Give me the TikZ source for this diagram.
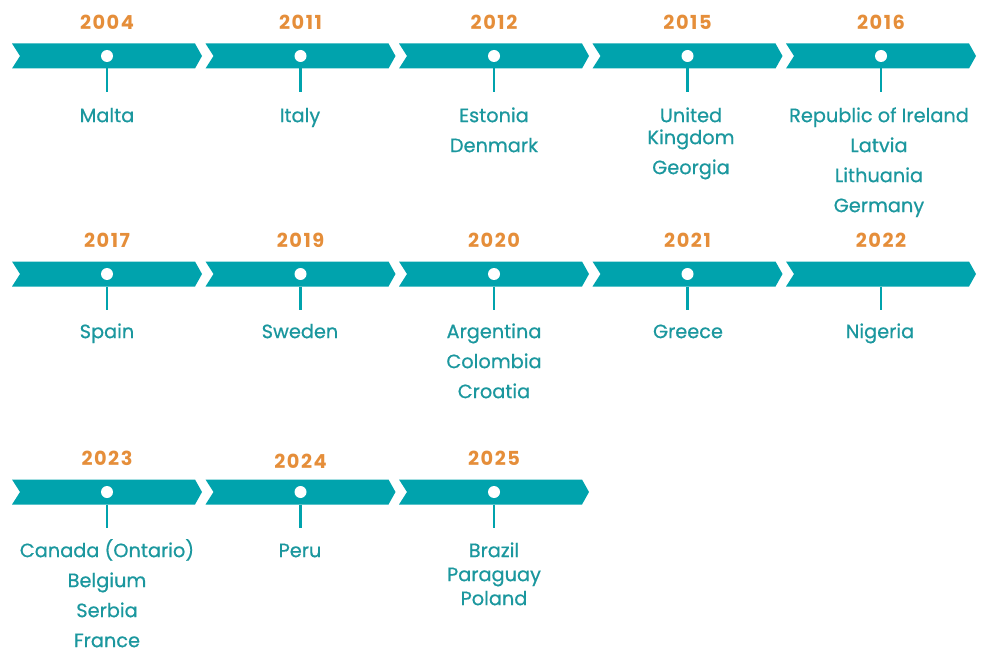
\documentclass[tikz,border=0pt]{standalone}
\usepackage{fontspec}
\setmainfont{Poppins}
\definecolor{barTeal}{HTML}{00A3AD}
\definecolor{textTeal}{HTML}{1B979E}
\definecolor{yearOrange}{HTML}{E58E3A}
\begin{document}
\begin{tikzpicture}[x=0.02cm, y=-0.02cm]
  \tikzstyle{yearStyle} = [text=yearOrange, font=\fontsize{11}{12}\selectfont\bfseries\addfontfeatures{LetterSpace=8}]
  \tikzstyle{placeStyle} = [text=textTeal, font=\fontsize{11}{12}\selectfont\addfontfeatures{FakeBold=0.6}, align=center, inner sep=0pt, text height=7.5pt, text depth=0.5pt]
  \tikzstyle{barStyle} = [fill=barTeal]
  \tikzstyle{dotStyle} = [circle, fill=white, inner sep=0pt, minimum size=0.24cm]
  \tikzstyle{stemStyle} = [draw=barTeal, line width=1.4pt]
  \useasboundingbox (0,0) rectangle (990,662);
  % bars, dots and stems
  \foreach \col/\row/\name/\dot in {0/0/a/1,1/0/b/1,2/0/c/1,3/0/d/1,4/0/e/1,
                                    0/1/f/1,1/1/g/1,2/1/h/1,3/1/i/1,4/1/j/0,
                                    0/2/k/1,1/2/l/1,2/2/m/1} {
    \pgfmathsetmacro{\xl}{12+193.5*\col}
    \pgfmathsetmacro{\ym}{56+218*\row}
    \fill[barStyle] (\xl,\ym-12.5) -- (\xl+183,\ym-12.5) -- (\xl+190,\ym)
        -- (\xl+183,\ym+12.5) -- (\xl,\ym+12.5) -- (\xl+8,\ym) -- cycle;
    \coordinate (\name) at (\xl+95,\ym);
    \coordinate (\name s) at (\xl+95,\ym+36);
    \path[stemStyle] (\xl+95,\ym+12.5) -- (\name s);
    \ifnum\dot=1 \node[dotStyle] (\name d) at (\name) {}; \fi
  }
  % years
  \foreach \name/\yr/\dy in {a/2004/0,b/2011/0,c/2012/0,d/2015/0,e/2016/0,
                              f/2017/0,g/2019/0,h/2020/0,i/2021/0,j/2022/0,
                              k/2023/0,l/2024/3,m/2025/0}
    \node[yearStyle] (\name y) at ([yshift=(34-\dy)*0.02cm]\name) {\yr};
  % places
  \node[placeStyle] (a1) at (107,116) {Malta};
  \node[placeStyle] (b1) at (300,116) {Italy};
  \node[placeStyle] (c1) at (494,116) {Estonia};
  \node[placeStyle] (c2) at (494,146) {Denmark};
  \node[placeStyle] (d1) at (691,116) {United};
  \node[placeStyle] (d1b) at (691,138) {Kingdom};
  \node[placeStyle] (d2) at (691,168) {Georgia};
  \node[placeStyle] (e1) at (879,116) {Republic of Ireland};
  \node[placeStyle] (e2) at (879,146) {Latvia};
  \node[placeStyle] (e3) at (879,176) {Lithuania};
  \node[placeStyle] (e4) at (879,206) {Germany};
  \node[placeStyle] (f1) at (107,332) {Spain};
  \node[placeStyle] (g1) at (300,332) {Sweden};
  \node[placeStyle] (h1) at (494,332) {Argentina};
  \node[placeStyle] (h2) at (494,362) {Colombia};
  \node[placeStyle] (h3) at (494,392) {Croatia};
  \node[placeStyle] (i1) at (688,332) {Greece};
  \node[placeStyle] (j1) at (880,332) {Nigeria};
  \node[placeStyle] (k1) at (107,551) {Canada (Ontario)};
  \node[placeStyle] (k2) at (107,581) {Belgium};
  \node[placeStyle] (k3) at (107,611) {Serbia};
  \node[placeStyle] (k4) at (107,641) {France};
  \node[placeStyle] (l1) at (300,551) {Peru};
  \node[placeStyle] (m1) at (494,551) {Brazil};
  \node[placeStyle] (m2) at (494,575) {Paraguay};
  \node[placeStyle] (m3) at (494,599) {Poland};
\end{tikzpicture}
\end{document}
